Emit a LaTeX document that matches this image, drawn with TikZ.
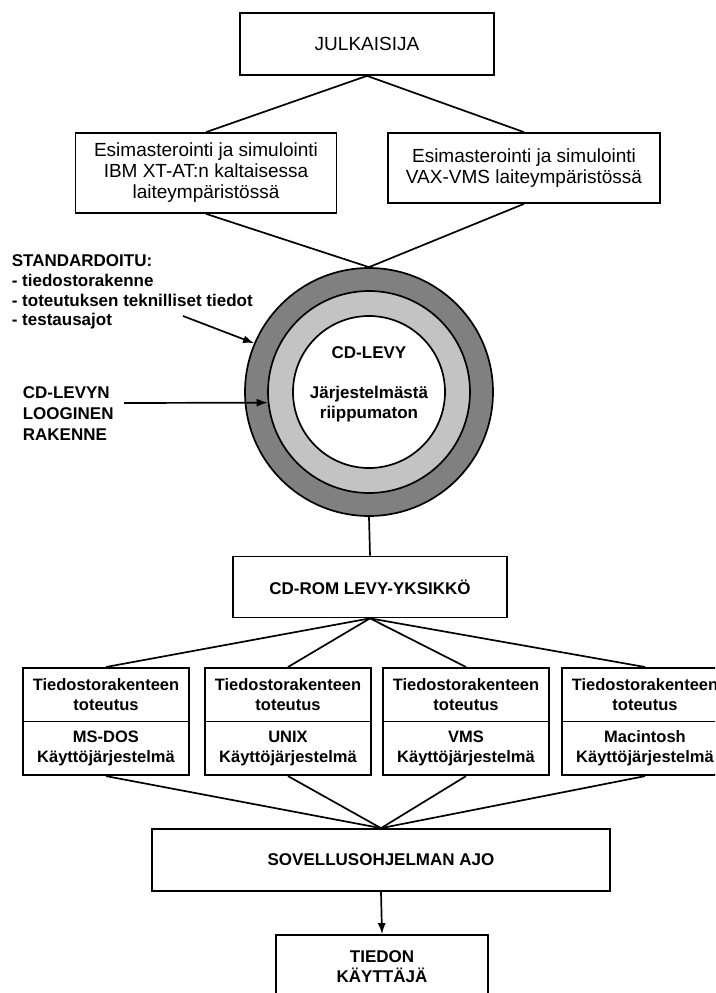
\documentclass[tikz,border=0pt]{standalone}
\usepackage{fontspec}
\setmainfont{Liberation Sans}
\usepackage{tikz}
\usetikzlibrary{shapes.multipart,arrows.meta,positioning}
\definecolor{ringdark}{RGB}{128,128,128}
\definecolor{ringlight}{RGB}{195,195,195}
\tikzstyle{box}=[draw,line width=1.7pt,inner sep=0pt,align=center,font=\fontsize{19}{21}\selectfont]
\tikzstyle{boldbox}=[box,font=\fontsize{17}{20}\selectfont\bfseries]
\tikzstyle{splitbox}=[draw,line width=1.7pt,rectangle split,rectangle split parts=2,inner xsep=7pt,inner ysep=4pt,font=\fontsize{16.5}{19.5}\selectfont\bfseries]
\tikzstyle{ring}=[draw,line width=1.7pt,circle,inner sep=0pt]
\tikzstyle{note}=[inner sep=0pt,align=left,font=\fontsize{17}{19.7}\selectfont\bfseries]
\newcommand{\parttext}[2]{\parbox[c][44pt][c]{152pt}{\centering #1\\#2}}

\begin{document}
\begin{tikzpicture}[x=1pt,y=-1pt,line width=1.7pt,>={Latex[length=11pt,width=8pt]}]
\useasboundingbox (0,0) rectangle (715,993);
\clip (0,0) rectangle (715,993);
\draw (367, 44) node [box, minimum width=254pt, minimum height=62pt] (julk) {JULKAISIJA};
\draw (206, 173) node [box, minimum width=261pt, minimum height=80pt] (esim1) {Esimasterointi ja simulointi\\IBM XT-AT:n kaltaisessa\\laiteympäristössä};
\draw (524, 168) node [box, minimum width=272pt, minimum height=70pt] (esim2) {Esimasterointi ja simulointi\\VAX-VMS laiteympäristössä};
% levy
\draw (369, 392) node [ring, fill=ringdark, minimum size=248pt] (outer) {};
\draw (369, 392) node [ring, fill=ringlight, minimum size=202pt] (middle) {};
\draw (369, 392) node [ring, fill=white, minimum size=152pt] (inner) {};
\draw (369, 353) node [note, align=center] (cdlevy) {CD-LEVY};
\draw (369, 404) node [note, align=center] (riipp) {Järjestelmästä\\riippumaton};
\draw (11, 292) node [note, anchor=west] (std) {STANDARDOITU:\\- tiedostorakenne\\- toteutuksen teknilliset tiedot\\- testausajot};
\draw (22, 414) node [note, anchor=west, font=\fontsize{17}{21}\selectfont\bfseries] (logi) {CD-LEVYN\\LOOGINEN\\RAKENNE};
\coordinate (s1) at (183, 316);
\coordinate (l1) at (124, 403);
\draw (370, 587) node [boldbox, minimum width=274pt, minimum height=61pt] (cdrom) {CD-ROM LEVY-YKSIKKÖ};
\draw (106, 667) node [splitbox, anchor=north] (os1) {\parttext{Tiedostorakenteen}{toteutus}\nodepart{two}\parttext{MS-DOS}{Käyttöjärjestelmä}};
\draw (288, 667) node [splitbox, anchor=north] (os2) {\parttext{Tiedostorakenteen}{toteutus}\nodepart{two}\parttext{UNIX}{Käyttöjärjestelmä}};
\draw (466, 667) node [splitbox, anchor=north] (os3) {\parttext{Tiedostorakenteen}{toteutus}\nodepart{two}\parttext{VMS}{Käyttöjärjestelmä}};
\draw (645, 667) node [splitbox, anchor=north] (os4) {\parttext{Tiedostorakenteen}{toteutus}\nodepart{two}\parttext{Macintosh}{Käyttöjärjestelmä}};
\draw (381, 860) node [boldbox, minimum width=458pt, minimum height=62pt] (ajo) {SOVELLUSOHJELMAN AJO};
\draw (382, 967) node [boldbox, minimum width=212pt, minimum height=64pt] (user) {TIEDON\\KÄYTTÄJÄ};
\draw (julk.south) -- (esim1.north);
\draw (julk.south) -- (esim2.north);
\draw (esim1.south) -- (outer.north);
\draw (esim2.south) -- (outer.north);
\draw[->] (s1) -- (outer.157);
\draw[->] (l1) -- (middle.186);
\draw (outer.south) -- (cdrom.north);
\foreach \k in {1,2,3,4}
  \draw (cdrom.south) -- (os\k.north);
\foreach \k in {1,2,3,4}
  \draw (os\k.south) -- (ajo.north);
\draw[->] (ajo.south) -- (user.north);
\end{tikzpicture}
\end{document}
